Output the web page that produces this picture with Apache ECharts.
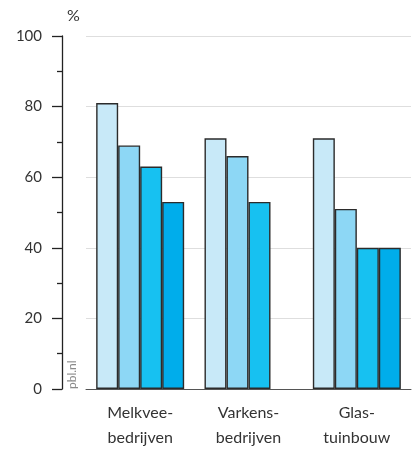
<!DOCTYPE html>
<html>
<head>
<meta charset="utf-8">
<script src="https://cdn.jsdelivr.net/npm/echarts@6/dist/echarts.min.js"></script>
<style>
  html, body { margin: 0; padding: 0; background: #fff; }
  #chart { width: 412px; height: 450px; }
</style>
</head>
<body>
<div id="chart"></div>
<script>
// Sector categories (x axis)
const categories = ['Melkvee-\nbedrijven', 'Varkens-\nbedrijven', 'Glas-\ntuinbouw'];
// Four series per sector, percentages
const series1 = [81, 71, 71];
const series2 = [69, 66, 51];
const series3 = [63, 53, 40];
const series4 = [53, null, 40];
// Y axis ticks
const yTicks = [0, 20, 40, 60, 80, 100];

const colors = ['#c8e9f8', '#8dd7f5', '#17c1f1', '#00adeb'];
const fontFamily = 'Lato, "Open Sans", sans-serif';

const chart = echarts.init(document.getElementById('chart'), null, { renderer: 'canvas' });

function bar(data, i) {
  return {
    type: 'bar',
    data: data,
    barWidth: 22,
    barGap: '0%',
    itemStyle: { color: colors[i], borderColor: '#2b2b2b', borderWidth: 1.4 },
    emphasis: { disabled: true }
  };
}

chart.setOption({
  animation: false,
  textStyle: { fontFamily: fontFamily },
  title: {
    text: '%',
    left: 62,
    top: 3,
    textStyle: { fontSize: 16, fontWeight: 'normal', color: '#333', fontFamily: fontFamily }
  },
  grid: { left: 86, right: 1, top: 36, bottom: 61, containLabel: false },
  xAxis: {
    type: 'category',
    data: categories,
    axisLine: { show: true, lineStyle: { color: '#555', width: 1 } },
    axisTick: { show: false },
    axisLabel: {
      color: '#333',
      fontSize: 16,
      lineHeight: 25,
      margin: 11,
      fontFamily: fontFamily
    },
    splitLine: { show: false }
  },
  yAxis: {
    type: 'value',
    min: yTicks[0],
    max: yTicks[yTicks.length - 1],
    interval: 20,
    offset: 24,
    axisLine: { show: true, lineStyle: { color: '#222', width: 1.3 } },
    axisTick: { show: true, length: 10, lineStyle: { color: '#222', width: 1.3 } },
    minorTick: { show: true, splitNumber: 2, length: 5, lineStyle: { color: '#222', width: 1.3 } },
    axisLabel: { color: '#333', fontSize: 15, margin: 20, fontFamily: fontFamily },
    splitLine: { show: true, lineStyle: { color: '#dedede', width: 1 } }
  },
  graphic: [{
    type: 'text',
    x: 66,
    y: 389,
    rotation: Math.PI / 2,
    style: {
      text: 'pbl.nl',
      fill: '#8a8a8a',
      fontSize: 12,
      fontFamily: fontFamily,
      align: 'left',
      verticalAlign: 'top'
    }
  }],
  series: [bar(series1, 0), bar(series2, 1), bar(series3, 2), bar(series4, 3)]
});
</script>
</body>
</html>
